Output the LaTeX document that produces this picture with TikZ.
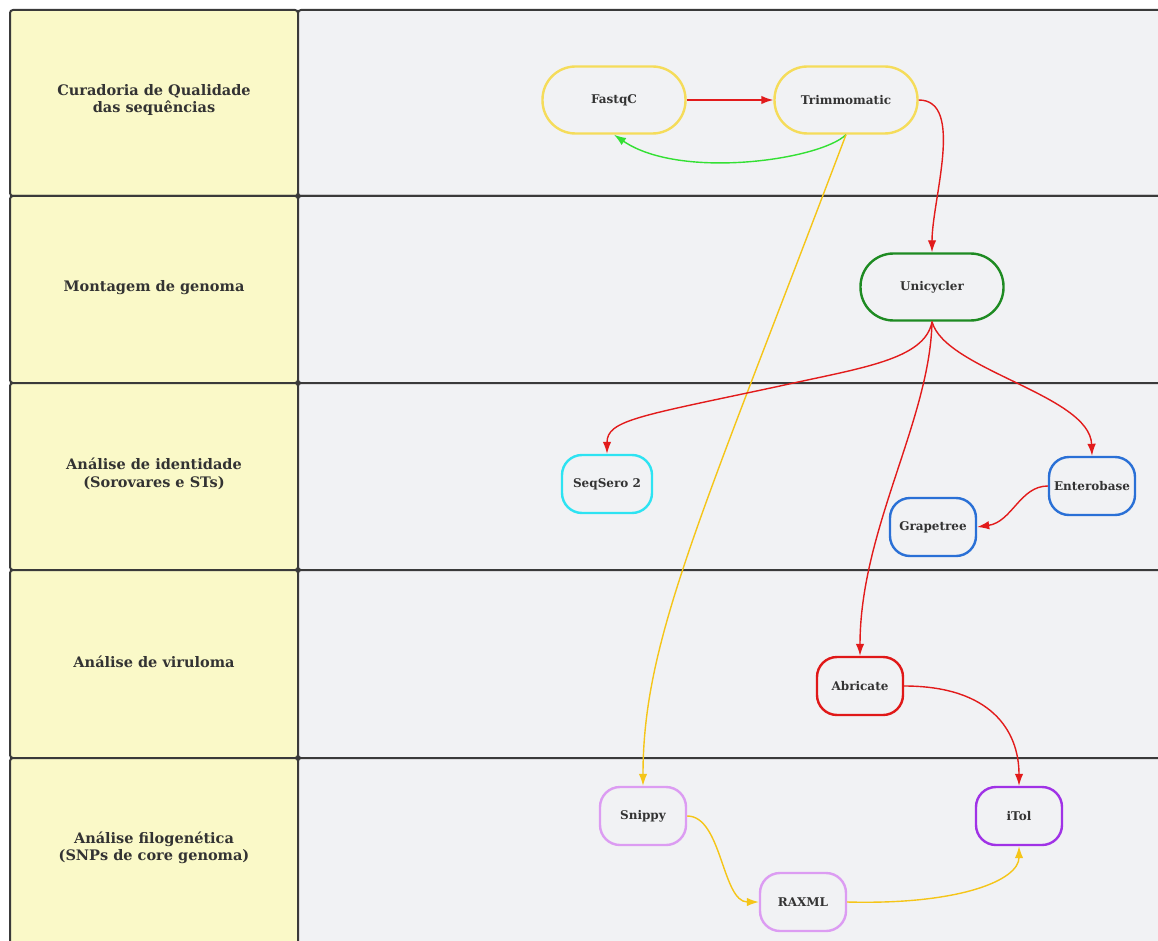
\documentclass[tikz,border=0pt]{standalone}
\usepackage{fontspec}
\setmainfont{DejaVu Serif}
\usetikzlibrary{arrows.meta}
\definecolor{laneY}{HTML}{FAF9C8}
\definecolor{laneG}{HTML}{F1F2F4}
\definecolor{bord}{HTML}{3A3A3A}
\definecolor{txt}{HTML}{333333}
\definecolor{nyel}{HTML}{F5DC5A}
\definecolor{ayel}{HTML}{F5C518}
\definecolor{ared}{HTML}{E21B1B}
\definecolor{agrn}{HTML}{33E033}
\definecolor{ngrn}{HTML}{1E8B22}
\definecolor{ncyan}{HTML}{2DE3F2}
\definecolor{nblue}{HTML}{2A70D6}
\definecolor{nred}{HTML}{E01818}
\definecolor{nvio}{HTML}{DC9CF2}
\definecolor{npur}{HTML}{A032E6}
\tikzset{
  lanelabel/.style={draw=bord, line width=2pt, fill=laneY, rounded corners=3pt},
  lanebody/.style={draw=bord, line width=2pt, fill=laneG, rounded corners=3pt},
  lanetext/.style={font=\fontsize{14.5}{17.5}\selectfont\bfseries, text=txt, align=center},
  capsule/.style={draw=#1, line width=2.4pt, rounded corners=33pt, minimum width=143pt, minimum height=67pt, font=\fontsize{12}{14}\selectfont\bfseries, text=txt, inner sep=0pt},
  tool/.style={draw=#1, line width=2.4pt, rounded corners=20pt, minimum width=86pt, minimum height=58pt, font=\fontsize{12}{14}\selectfont\bfseries, text=txt, inner sep=0pt},
  conn/.style={draw=#1, line width=1.4pt, -{Latex[length=12pt,width=8.5pt]}},
}
\begin{document}
\begin{tikzpicture}[x=1pt,y=-1pt]
\useasboundingbox (0,0) rectangle (1158,941);
\clip (0,0) rectangle (1158,941);
\fill[white] (0,0) rectangle (1158,941);
% lanes
\foreach \t/\b in {10/196,196/383,383/570,570/758,758/950}{
  \draw[lanelabel] (10,\t) rectangle (298,\b);
  \draw[lanebody] (298,\t) rectangle (1170,\b);
}
\node[lanetext] (l1) at (154,100) {Curadoria de Qualidade\\das sequências};
\node[lanetext] (l2) at (154,288) {Montagem de genoma};
\node[lanetext] (l3) at (154,474) {Análise de identidade\\(Sorovares e STs)};
\node[lanetext] (l4) at (154,662) {Análise de viruloma};
\node[lanetext] (l5) at (154,848) {Análise filogenética\\(SNPs de core genoma)};
% nodes
\node[capsule=nyel] (fastqc) at (614,100) {FastqC};
\node[capsule=nyel] (trim) at (846,100) {Trimmomatic};
\node[capsule=ngrn] (uni) at (932,287) {Unicycler};
\node[tool=ncyan, minimum width=90pt] (seq) at (607,484) {SeqSero 2};
\node[tool=nblue] (entero) at (1092,486) {Enterobase};
\node[tool=nblue] (grape) at (933,527) {Grapetree};
\node[tool=nred] (abri) at (860,686) {Abricate};
\node[tool=nvio] (snippy) at (643,816) {Snippy};
\node[tool=npur] (itol) at (1019,816) {iTol};
\node[tool=nvio] (raxml) at (803,902) {RAXML};
% connectors
\draw[conn=ared] (fastqc.east) -- (trim.west);
\draw[conn=agrn] (trim.south) .. controls (820,160) and (680,180) .. (fastqc.south);
\draw[conn=ared] (trim.east) .. controls (965,100) and (932,200) .. (uni.north);
\draw[conn=ayel] (trim.south) .. controls (700,520) and (643,640) .. (snippy.north);
\draw[conn=ared] (uni.south) .. controls (925,360) and (860,368) .. (780,386)
                 .. controls (640,416) and (607,420) .. (seq.north);
\draw[conn=ared] (uni.south) .. controls (945,370) and (1090,395) .. (entero.north);
\draw[conn=ared] (uni.south) .. controls (930,420) and (860,530) .. (abri.north);
\draw[conn=ared] (entero.west) .. controls (1020,486) and (1012,522) .. (grape.east);
\draw[conn=ared] (abri.east) .. controls (990,686) and (1019,730) .. (itol.north);
\draw[conn=ayel] (snippy.east) .. controls (722,816) and (722,902) .. (raxml.west);
\draw[conn=ayel] (raxml.east) .. controls (960,905) and (1019,880) .. (itol.south);
\end{tikzpicture}
\end{document}
